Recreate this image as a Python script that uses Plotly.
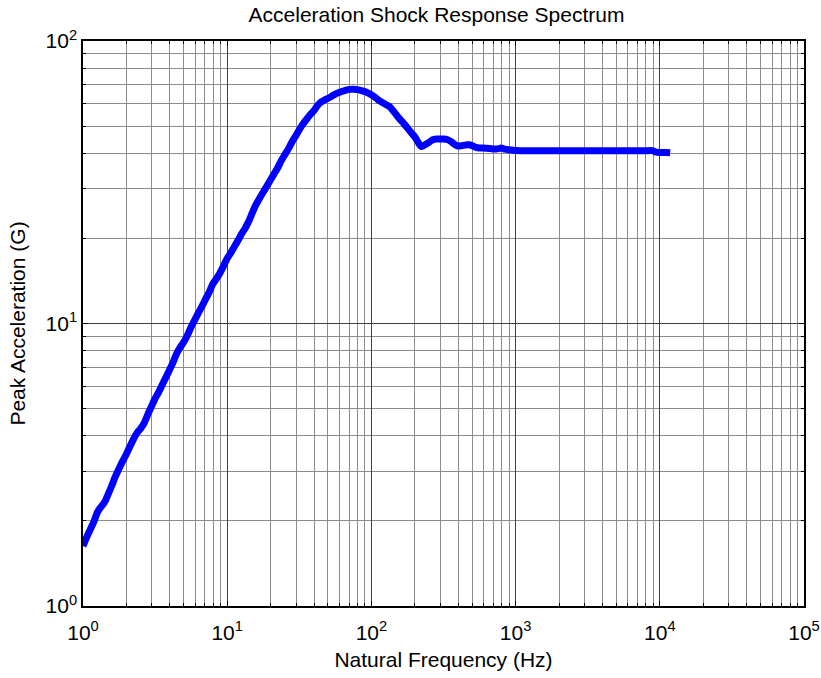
import plotly.graph_objects as go

# Shock response spectrum: natural frequency (Hz) vs peak acceleration (G)
freq_hz = [
    1.00, 1.06, 1.12, 1.19, 1.26, 1.33, 1.41, 1.50, 1.58, 1.68, 1.78, 1.88,
    2.00, 2.11, 2.24, 2.37, 2.51, 2.66, 2.82, 2.99, 3.16, 3.35, 3.55, 3.76,
    3.98, 4.22, 4.47, 4.73, 5.01, 5.31, 5.62, 5.96, 6.31, 6.68, 7.08, 7.50,
    7.94, 8.41, 8.91, 9.44, 10.0, 10.6, 11.2, 11.9, 12.6, 13.3, 14.1, 15.0,
    15.8, 16.8, 17.8, 18.8, 20.0, 21.1, 22.4, 23.7, 25.1, 26.6, 28.2, 29.9,
    31.6, 33.5, 35.5, 37.6, 39.8, 42.2, 44.7, 47.3, 50.1, 53.1, 56.2, 59.6,
    63.1, 66.8, 70.8, 75.0, 79.4, 84.1, 89.1, 94.4, 100, 106, 112, 119,
    126, 133, 141, 150, 158, 168, 178, 188, 200, 211, 222, 237, 251, 266,
    282, 299, 316, 335, 355, 376, 398, 422, 447, 473, 501, 531, 562, 596,
    631, 668, 708, 750, 794, 841, 891, 944, 1000, 1259, 1585, 1995, 2512,
    3162, 3981, 5012, 6310, 7943, 8913, 9441, 10000, 11000, 11800,
]
accel_g = [
    1.63, 1.75, 1.86, 1.99, 2.15, 2.24, 2.33, 2.50, 2.66, 2.88, 3.07, 3.25,
    3.45, 3.66, 3.90, 4.10, 4.25, 4.45, 4.78, 5.10, 5.42, 5.72, 6.08, 6.45,
    6.85, 7.30, 7.85, 8.25, 8.62, 9.10, 9.72, 10.3, 10.9, 11.5, 12.2, 12.9,
    13.8, 14.4, 15.1, 16.0, 17.0, 17.8, 18.7, 19.7, 20.8, 21.7, 23.0, 24.8,
    26.3, 27.8, 29.2, 30.6, 32.3, 33.8, 35.6, 37.7, 39.6, 41.6, 44.0, 46.2,
    48.5, 50.8, 52.8, 54.8, 56.6, 59.0, 60.8, 61.8, 62.7, 63.8, 64.9, 65.7,
    66.4, 67.0, 67.4, 67.5, 67.3, 66.9, 66.3, 65.5, 64.5, 63.2, 61.8, 60.6,
    59.6, 58.7, 56.8, 54.5, 52.8, 51.0, 49.2, 47.5, 45.8, 43.8, 42.3, 43.0,
    43.8, 44.7, 45.0, 45.0, 45.0, 44.8, 44.1, 43.1, 42.5, 42.6, 42.8, 42.9,
    42.6, 42.0, 41.8, 41.8, 41.7, 41.6, 41.5, 41.5, 41.8, 41.4, 41.2, 41.1,
    41.0, 40.9, 40.9, 40.9, 40.9, 40.9, 40.9, 40.9, 40.9, 40.9, 40.9, 40.4,
    40.3, 40.3, 40.2,
]

x_major = [1, 10, 100, 1000, 10000, 100000]
x_labels = ["10<sup>0</sup>", "10<sup>1</sup>", "10<sup>2</sup>",
            "10<sup>3</sup>", "10<sup>4</sup>", "10<sup>5</sup>"]
y_major = [1, 10, 100]
y_labels = ["10<sup>0</sup>", "10<sup>1</sup>", "10<sup>2</sup>"]

x_minor = [m * 10 ** d for d in range(5) for m in range(2, 10)]
y_minor = [m * 10 ** d for d in range(2) for m in range(2, 10)]

FONT = "Liberation Sans, Arial, Helvetica, sans-serif"
W, H = 821, 678

fig = go.Figure()
fig.add_trace(go.Scatter(
    x=freq_hz, y=accel_g, mode="lines",
    line=dict(color="#0000ff", width=7, shape="spline", smoothing=0.7),
    showlegend=False, hoverinfo="x+y",
))

axis_common = dict(
    type="log",
    tickmode="array",
    ticks="inside", ticklen=5, tickwidth=1, tickcolor="black",
    showline=True, linecolor="black", linewidth=1.5, mirror="ticks",
    showgrid=True, gridcolor="#404040", gridwidth=1,
    zeroline=False, automargin=False,
    tickfont=dict(family=FONT, size=21, color="black"),
)

fig.update_xaxes(
    **axis_common,
    range=[0, 5],
    tickvals=x_major, ticktext=x_labels,
    ticklabelstandoff=7,
    minor=dict(tickmode="array", tickvals=x_minor, ticks="inside", ticklen=3,
               tickwidth=1, tickcolor="black", showgrid=True,
               gridcolor="#8c8c8c", gridwidth=1),
    title=dict(text="Natural Frequency (Hz)",
               font=dict(family=FONT, size=21, color="black"), standoff=9),
)
fig.update_yaxes(
    **axis_common,
    range=[0, 2],
    tickvals=y_major, ticktext=y_labels,
    minor=dict(tickmode="array", tickvals=y_minor, ticks="inside", ticklen=3,
               tickwidth=1, tickcolor="black", showgrid=True,
               gridcolor="#8c8c8c", gridwidth=1),
    title=dict(text="Peak Acceleration (G)",
               font=dict(family=FONT, size=21, color="black"), standoff=14),
)

fig.update_layout(
    width=W, height=H,
    margin=dict(l=83, r=17, t=41, b=72, autoexpand=False),
    paper_bgcolor="white", plot_bgcolor="white",
    title=dict(text="Acceleration Shock Response Spectrum",
               font=dict(family=FONT, size=21, color="black"),
               x=436.5 / W, xref="container", xanchor="center",
               y=1 - 15 / H, yref="container", yanchor="middle"),
)

fig.write_html("out.html")
